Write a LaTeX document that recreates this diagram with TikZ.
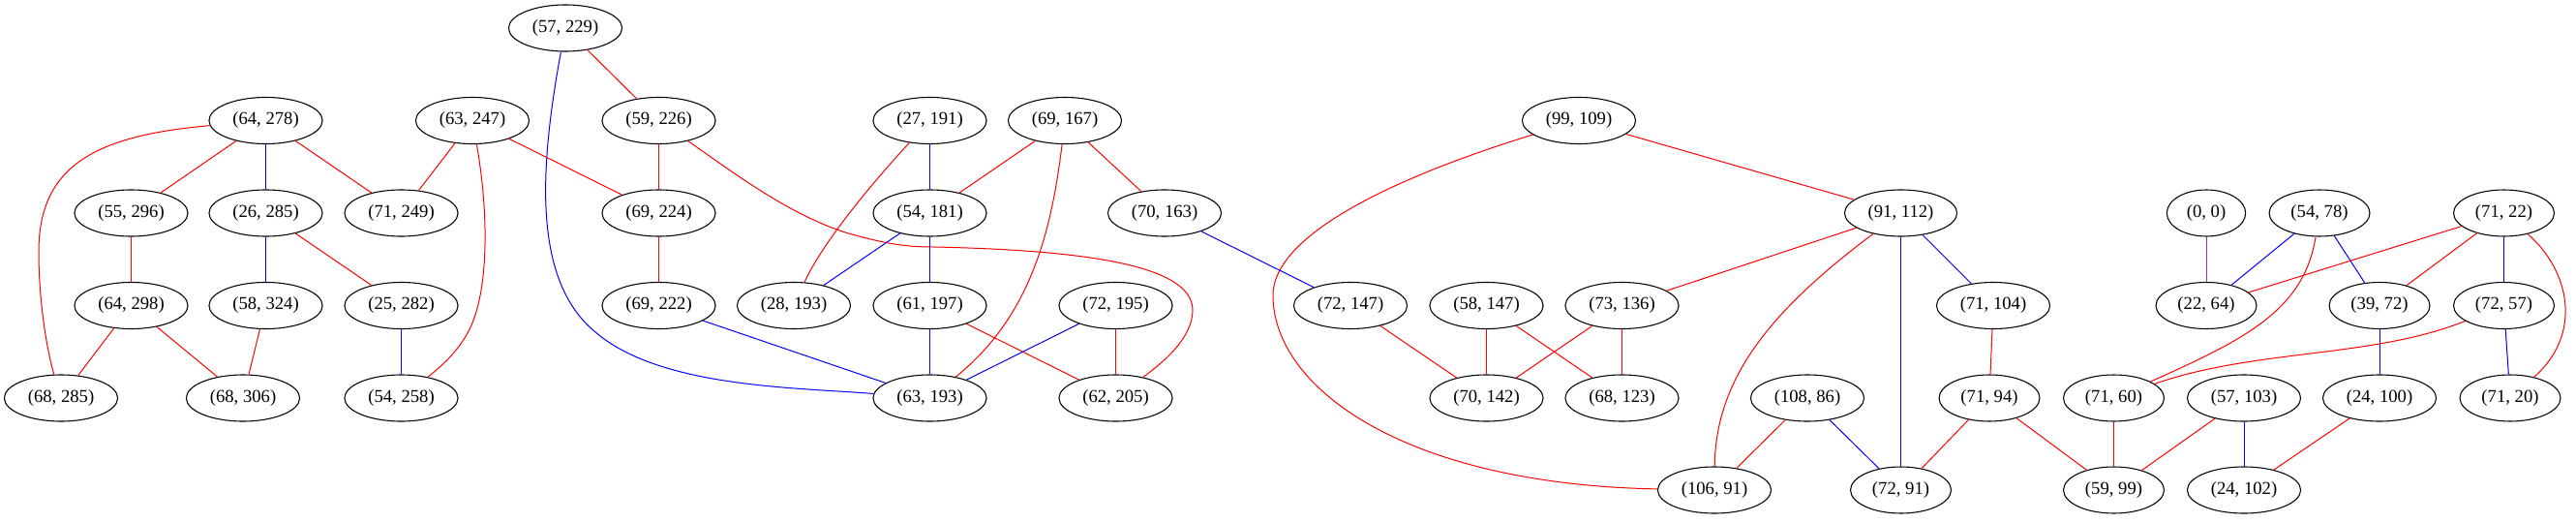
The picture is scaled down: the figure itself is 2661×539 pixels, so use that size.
\documentclass[tikz,border=0pt]{standalone}
\usepackage{fontspec}
\setmainfont{Liberation Serif}
\usetikzlibrary{shapes.geometric}
\definecolor{gvviolet}{RGB}{138,43,226}
\tikzset{
  nd/.style={draw=black, ellipse, line width=0.8pt, minimum width=61pt, minimum height=36pt,
    inner xsep=5.4pt, inner ysep=2pt, font=\fontsize{14}{16}\selectfont},
  re/.style={draw=red, line width=0.75pt},
  be/.style={draw=blue, line width=0.75pt},
  pe/.style={draw=gvviolet, line width=0.75pt}
}
\begin{document}
\begin{tikzpicture}[x=0.75pt,y=-0.75pt]
\useasboundingbox (0,0) rectangle (2661,539);
% row 0
\node[nd] (a57_229) at (584,29) {(57, 229)};
% row 1
\node[nd] (a64_278) at (274.5,124.5) {(64, 278)};
\node[nd] (a63_247) at (488,124.5) {(63, 247)};
\node[nd] (a59_226) at (680.5,124.5) {(59, 226)};
\node[nd] (a27_191) at (960.5,124.5) {(27, 191)};
\node[nd] (a69_167) at (1100,124.5) {(69, 167)};
\node[nd] (a99_109) at (1631,124.5) {(99, 109)};
% row 2
\node[nd] (a55_296) at (135.5,220) {(55, 296)};
\node[nd] (a26_285) at (274.5,220) {(26, 285)};
\node[nd] (a71_249) at (414.5,220) {(71, 249)};
\node[nd] (a69_224) at (680.5,220) {(69, 224)};
\node[nd] (a54_181) at (960.5,220) {(54, 181)};
\node[nd] (a70_163) at (1203,220) {(70, 163)};
\node[nd] (a91_112) at (1963.5,220) {(91, 112)};
\node[nd] (a0_0) at (2279,220) {(0, 0)};
\node[nd] (a54_78) at (2396,220) {(54, 78)};
\node[nd] (a71_22) at (2586.5,220) {(71, 22)};
% row 3
\node[nd] (a64_298) at (135.5,315.5) {(64, 298)};
\node[nd] (a58_324) at (274.5,315.5) {(58, 324)};
\node[nd] (a25_282) at (414.5,315.5) {(25, 282)};
\node[nd] (a69_222) at (680.5,315.5) {(69, 222)};
\node[nd] (a28_193) at (820,315.5) {(28, 193)};
\node[nd] (a61_197) at (960.5,315.5) {(61, 197)};
\node[nd] (a72_195) at (1152.5,315.5) {(72, 195)};
\node[nd] (a72_147) at (1395,315.5) {(72, 147)};
\node[nd] (a58_147) at (1535.5,315.5) {(58, 147)};
\node[nd] (a73_136) at (1675.5,315.5) {(73, 136)};
\node[nd] (a71_104) at (2059,315.5) {(71, 104)};
\node[nd] (a22_64) at (2279,315.5) {(22, 64)};
\node[nd] (a39_72) at (2458,315.5) {(39, 72)};
\node[nd] (a72_57) at (2586.5,315.5) {(72, 57)};
% row 4
\node[nd] (a68_285) at (63,411) {(68, 285)};
\node[nd] (a68_306) at (251,411) {(68, 306)};
\node[nd] (a54_258) at (414.5,411) {(54, 258)};
\node[nd] (a63_193) at (960.5,411) {(63, 193)};
\node[nd] (a62_205) at (1152.5,411) {(62, 205)};
\node[nd] (a70_142) at (1535.5,411) {(70, 142)};
\node[nd] (a68_123) at (1675.5,411) {(68, 123)};
\node[nd] (a108_86) at (1867,411) {(108, 86)};
\node[nd] (a71_94) at (2055,411) {(71, 94)};
\node[nd] (a71_60) at (2183.5,411) {(71, 60)};
\node[nd] (a57_103) at (2318,411) {(57, 103)};
\node[nd] (a24_100) at (2458,411) {(24, 100)};
\node[nd] (a71_20) at (2593,411) {(71, 20)};
% row 5
\node[nd] (a106_91) at (1771,506) {(106, 91)};
\node[nd] (a72_91) at (1963.5,506) {(72, 91)};
\node[nd] (a59_99) at (2183.5,506) {(59, 99)};
\node[nd] (a24_102) at (2318,506) {(24, 102)};

% helper coordinates for curved edges
\coordinate (k2) at (614,342);
\coordinate (k6) at (40,260);
\coordinate (k9) at (485,340);
\coordinate (k11a) at (880,242);
\coordinate (k11b) at (965,255);
\coordinate (k11c) at (1232,320);
\coordinate (k18) at (1315,305);

% edges
\draw[re] (a57_229) -- (a59_226);
\draw[be] (a57_229) .. controls (556,180) and (552,290) .. (k2) .. controls (680,400) and (820,400) .. (a63_193);
\draw[re] (a64_278) -- (a55_296);
\draw[be] (a64_278) -- (a26_285);
\draw[re] (a64_278) -- (a71_249);
\draw[re] (a64_278) .. controls (100,140) and (40,170) .. (k6) .. controls (40,310) and (48,360) .. (a68_285);
\draw[re] (a63_247) -- (a71_249);
\draw[re] (a63_247) -- (a69_224);
\draw[re] (a63_247) .. controls (505,220) and (505,300) .. (k9) .. controls (475,360) and (460,375) .. (a54_258);
\draw[re] (a59_226) -- (a69_224);
\draw[re] (a59_226) .. controls (760,180) and (820,225) .. (k11a) .. controls (920,253) and (940,255) .. (k11b) .. controls (1100,258) and (1232,270) .. (k11c) .. controls (1232,350) and (1200,375) .. (a62_205);
\draw[be] (a27_191) -- (a54_181);
\draw[re] (a27_191) .. controls (900,190) and (850,250) .. (a28_193);
\draw[re] (a69_167) -- (a54_181);
\draw[re] (a69_167) .. controls (1085,250) and (1060,330) .. (a63_193);
\draw[re] (a69_167) -- (a70_163);
\draw[re] (a99_109) -- (a91_112);
\draw[re] (a99_109) .. controls (1450,180) and (1315,240) .. (k18) .. controls (1315,400) and (1450,500) .. (a106_91);
\draw[re] (a55_296) -- (a64_298);
\draw[be] (a26_285) -- (a58_324);
\draw[re] (a26_285) -- (a25_282);
\draw[re] (a69_224) -- (a69_222);
\draw[be] (a54_181) -- (a28_193);
\draw[be] (a54_181) -- (a61_197);
\draw[be] (a70_163) -- (a72_147);
\draw[re] (a91_112) -- (a73_136);
\draw[re] (a91_112) .. controls (1830,320) and (1772,390) .. (a106_91);
\draw[be] (a91_112) -- (a72_91);
\draw[be] (a91_112) -- (a71_104);
\draw[pe] (a0_0) -- (a22_64);
\draw[be] (a54_78) -- (a22_64);
\draw[be] (a54_78) -- (a39_72);
\draw[re] (a54_78) .. controls (2380,320) and (2320,350) .. (a71_60);
\draw[re] (a71_22) -- (a22_64);
\draw[re] (a71_22) -- (a39_72);
\draw[be] (a71_22) -- (a72_57);
\draw[re] (a71_22) .. controls (2655,280) and (2668,345) .. (a71_20);
\draw[re] (a64_298) -- (a68_285);
\draw[re] (a64_298) -- (a68_306);
\draw[re] (a58_324) -- (a68_306);
\draw[be] (a25_282) -- (a54_258);
\draw[be] (a69_222) -- (a63_193);
\draw[be] (a61_197) -- (a63_193);
\draw[re] (a61_197) -- (a62_205);
\draw[be] (a72_195) -- (a63_193);
\draw[re] (a72_195) -- (a62_205);
\draw[re] (a72_147) -- (a70_142);
\draw[re] (a58_147) -- (a70_142);
\draw[re] (a58_147) -- (a68_123);
\draw[re] (a73_136) -- (a70_142);
\draw[re] (a73_136) -- (a68_123);
\draw[re] (a71_104) -- (a71_94);
\draw[be] (a39_72) -- (a24_100);
\draw[re] (a72_57) .. controls (2450,370) and (2330,360) .. (a71_60);
\draw[be] (a72_57) -- (a71_20);
\draw[re] (a108_86) -- (a106_91);
\draw[be] (a108_86) -- (a72_91);
\draw[re] (a71_94) -- (a72_91);
\draw[re] (a71_94) -- (a59_99);
\draw[re] (a71_60) -- (a59_99);
\draw[re] (a57_103) -- (a59_99);
\draw[be] (a57_103) -- (a24_102);
\draw[re] (a24_100) -- (a24_102);
\end{tikzpicture}
\end{document}
